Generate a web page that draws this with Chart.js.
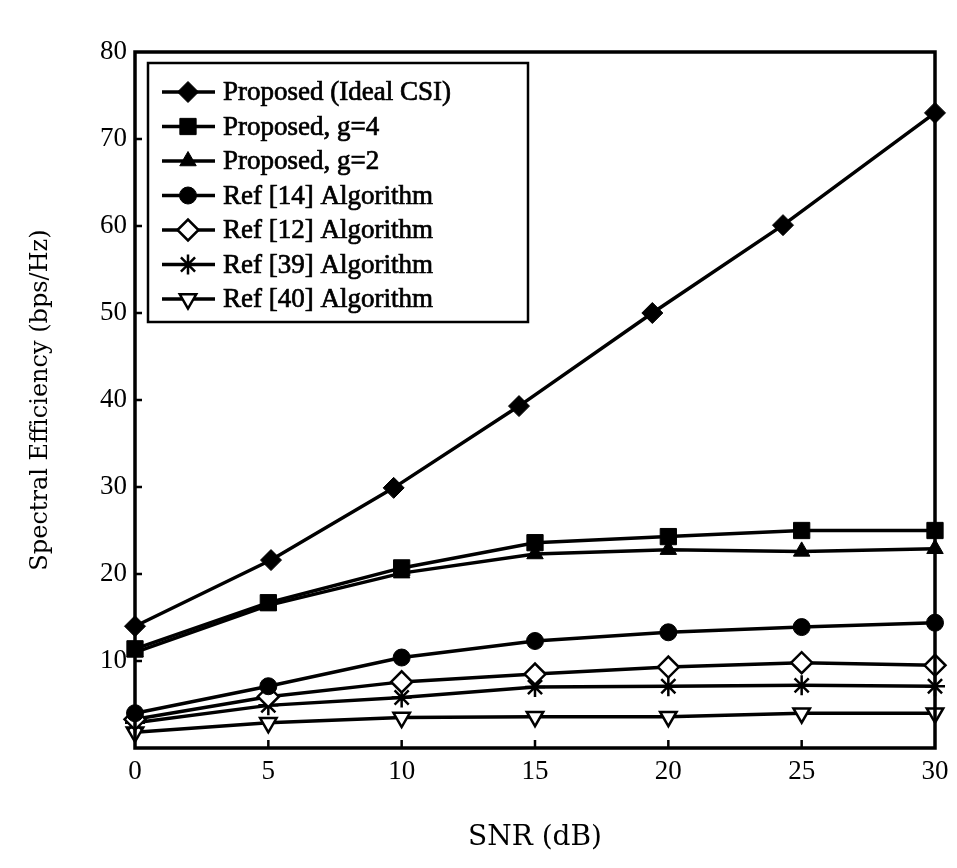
<!DOCTYPE html>
<html>
<head>
<meta charset="utf-8">
<title>Spectral Efficiency vs SNR</title>
<script src="https://cdn.jsdelivr.net/npm/chart.js@4.4.0/dist/chart.umd.min.js"></script>
<style>
  html, body { margin: 0; padding: 0; background: #fff; }
  #seChart { display: block; }
</style>
</head>
<body>
<canvas id="seChart" width="957" height="868"></canvas>
<script>
// SNR sample points (dB)
const snr = [0, 5, 10, 15, 20, 25, 30];
// the ideal CSI curve's markers sit a little left of the grid at the upper end
const snrIdeal = [0, 5.1, 9.7, 14.4, 19.4, 24.3, 30];

// spectral efficiency (bps/Hz)
const idealCsi = [14.0, 21.6, 29.9, 39.3, 50.0, 60.1, 73.0];
const propG4   = [11.4, 16.7, 20.7, 23.6, 24.3, 25.0, 25.0];
const propG2   = [11.0, 16.4, 20.1, 22.3, 22.8, 22.6, 22.9];
const ref14    = [4.0, 7.1, 10.4, 12.3, 13.3, 13.9, 14.4];
const ref12    = [3.3, 5.9, 7.6, 8.5, 9.3, 9.8, 9.5];
const ref39    = [2.9, 4.9, 5.8, 7.0, 7.1, 7.2, 7.1];
const ref40    = [1.8, 2.9, 3.5, 3.6, 3.6, 4.0, 4.0];

const seriesNames = [
  'Proposed (Ideal CSI)',
  'Proposed, g=4',
  'Proposed, g=2',
  'Ref [14] Algorithm',
  'Ref [12] Algorithm',
  'Ref [39] Algorithm',
  'Ref [40] Algorithm'
];

const yTicks = [0, 10, 20, 30, 40, 50, 60, 70, 80];
const xTicks = [0, 5, 10, 15, 20, 25, 30];

const SERIF = '"Liberation Serif", "Times New Roman", serif';
const TITLE_FONT = '"DejaVu Serif", serif';

function toPoints(xs, ys) {
  return ys.map((y, i) => ({ x: xs[i], y: y }));
}

function makeSeries(label, xs, ys, style) {
  return Object.assign({
    label: label,
    data: toPoints(xs, ys),
    borderColor: '#000',
    backgroundColor: '#000',
    borderWidth: 3.5,
    pointBorderColor: '#000',
    pointBorderWidth: 1,
    tension: 0,
    clip: false
  }, style);
}

const datasets = [
  makeSeries(seriesNames[0], snrIdeal, idealCsi, { pointStyle: 'rectRot', pointRadius: 10.5, pointBackgroundColor: '#000' }),
  makeSeries(seriesNames[1], snr, propG4, { pointStyle: 'rect', pointRadius: 11.5, pointBackgroundColor: '#000' }),
  makeSeries(seriesNames[2], snr, propG2, { pointStyle: 'triangle', pointRadius: 9.5, pointBackgroundColor: '#000' }),
  makeSeries(seriesNames[3], snr, ref14, { pointStyle: 'circle', pointRadius: 8.5, pointBackgroundColor: '#000' }),
  makeSeries(seriesNames[4], snr, ref12, { pointStyle: 'rectRot', pointRadius: 10.5, pointBackgroundColor: '#fff', pointBorderWidth: 2.5 }),
  makeSeries(seriesNames[5], snr, ref39, { pointStyle: 'star', pointRadius: 10, pointBackgroundColor: '#000', pointBorderWidth: 2.5 }),
  makeSeries(seriesNames[6], snr, ref40, { pointStyle: 'triangle', pointRotation: 180, pointRadius: 9.5, pointBackgroundColor: '#fff', pointBorderWidth: 2.5 })
];

// box around the plot + inward tick marks
const framePlugin = {
  id: 'frame',
  afterDatasetsDraw(chart) {
    const ctx = chart.ctx;
    const a = chart.chartArea;
    const xs = chart.scales.x, ys = chart.scales.y;
    ctx.save();
    ctx.strokeStyle = '#000';
    ctx.lineWidth = 3.5;
    ctx.strokeRect(a.left, a.top, a.right - a.left, a.bottom - a.top);
    ctx.lineWidth = 2.5;
    ctx.beginPath();
    yTicks.slice(1, -1).forEach(v => {
      const py = ys.getPixelForValue(v);
      ctx.moveTo(a.left, py);
      ctx.lineTo(a.left + 7, py);
    });
    xTicks.slice(1, -1).forEach(v => {
      const px = xs.getPixelForValue(v);
      ctx.moveTo(px, a.bottom);
      ctx.lineTo(px, a.bottom - 8);
    });
    ctx.stroke();
    ctx.restore();
  }
};

// legend box drawn inside the plot, line sample with marker
const legendPlugin = {
  id: 'insideLegend',
  afterDraw(chart) {
    const ctx = chart.ctx;
    const box = { left: 148, top: 63, right: 528, bottom: 322 };
    const rowTop = 92, rowGap = 34.5;
    ctx.save();
    ctx.fillStyle = '#fff';
    ctx.fillRect(box.left, box.top, box.right - box.left, box.bottom - box.top);
    ctx.strokeStyle = '#000';
    ctx.lineWidth = 2.5;
    ctx.strokeRect(box.left, box.top, box.right - box.left, box.bottom - box.top);
    chart.data.datasets.forEach((ds, i) => {
      const y = rowTop + i * rowGap;
      ctx.strokeStyle = '#000';
      ctx.lineWidth = 3.5;
      ctx.beginPath();
      ctx.moveTo(162, y);
      ctx.lineTo(215, y);
      ctx.stroke();
      ctx.fillStyle = ds.pointBackgroundColor;
      ctx.lineWidth = ds.pointBorderWidth;
      Chart.helpers.drawPoint(ctx, {
        pointStyle: ds.pointStyle,
        radius: ds.pointRadius,
        rotation: ds.pointRotation || 0,
        borderWidth: ds.pointBorderWidth
      }, 188, y);
      // slightly heavier glyphs, like a scanned print
      ctx.fillStyle = '#000';
      ctx.font = '27px ' + SERIF;
      ctx.textBaseline = 'middle';
      ctx.textAlign = 'left';
      ctx.lineWidth = 0.7;
      ctx.fillText(ds.label, 223, y + 1);
      ctx.strokeText(ds.label, 223, y + 1);
    });
    ctx.restore();
  }
};

new Chart(document.getElementById('seChart'), {
  type: 'line',
  data: { datasets: datasets },
  options: {
    responsive: false,
    animation: false,
    devicePixelRatio: 1,
    layout: { padding: { left: 0, right: 22, top: 52, bottom: 0 } },
    plugins: {
      legend: { display: false },
      tooltip: { enabled: false }
    },
    scales: {
      x: {
        type: 'linear',
        min: 0,
        max: 30,
        afterBuildTicks: scale => { scale.ticks = xTicks.map(v => ({ value: v })); },
        afterFit: scale => { scale.height = 868 - 748; },
        grid: { display: false, drawTicks: false },
        border: { display: false },
        ticks: {
          color: '#000',
          padding: 8,
          maxRotation: 0,
          font: { family: SERIF, size: 27 }
        },
        title: {
          display: true,
          text: 'SNR (dB)',
          color: '#000',
          font: { family: TITLE_FONT, size: 28 },
          padding: { top: 0, bottom: 13 }
        }
      },
      y: {
        type: 'linear',
        min: 0,
        max: 80,
        afterBuildTicks: scale => { scale.ticks = yTicks.map(v => ({ value: v })); },
        afterFit: scale => { scale.width = 135; },
        grid: { display: false, drawTicks: false },
        border: { display: false },
        ticks: {
          color: '#000',
          padding: 8,
          font: { family: SERIF, size: 27 },
          callback: v => (v === 0 ? '' : v)
        },
        title: {
          display: true,
          text: 'Spectral Efficiency (bps/Hz)',
          color: '#000',
          font: { family: TITLE_FONT, size: 24 },
          padding: { top: 26, bottom: 0 }
        }
      }
    }
  },
  plugins: [framePlugin, legendPlugin]
});
</script>
</body>
</html>
